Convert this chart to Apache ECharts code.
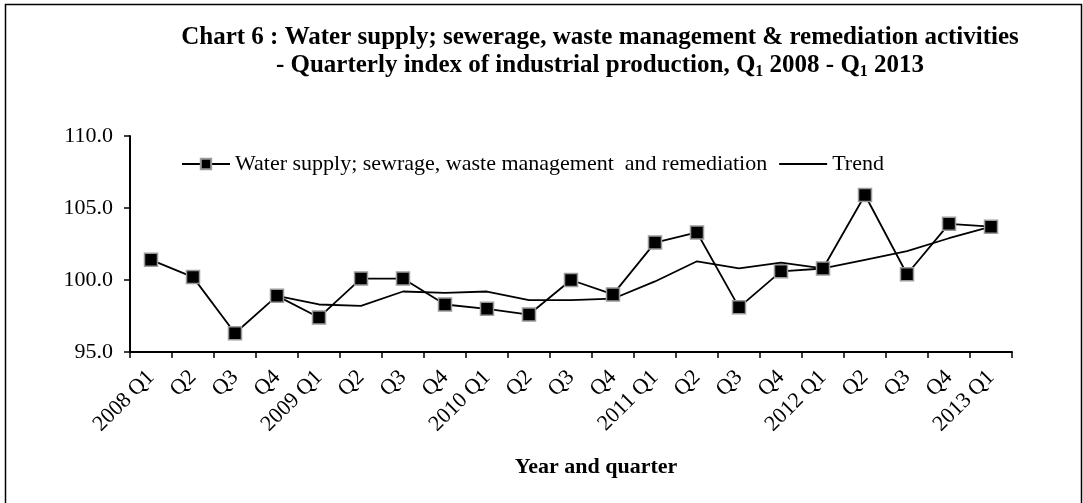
<!DOCTYPE html>
<html>
<head>
<meta charset="utf-8">
<script src="https://cdn.jsdelivr.net/npm/echarts@6/dist/echarts.min.js"></script>
<style>
	html, body { margin: 0; padding: 0; background: #fff; }
	#chart { width: 1083px; height: 503px; }
</style>
</head>
<body>
<div id="chart"></div>
<script>
var quarters = ['2008 Q1', 'Q2', 'Q3', 'Q4', '2009 Q1', 'Q2', 'Q3', 'Q4',
	'2010 Q1', 'Q2', 'Q3', 'Q4', '2011 Q1', 'Q2', 'Q3', 'Q4',
	'2012 Q1', 'Q2', 'Q3', 'Q4', '2013 Q1'];

var waterIndex = [101.4, 100.2, 96.3, 98.9, 97.4, 100.1, 100.1, 98.3,
	98.0, 97.6, 100.0, 99.0, 102.6, 103.3, 98.1, 100.6,
	100.8, 105.9, 100.4, 103.9, 103.7];

var trendIndex = [null, null, null, 98.9, 98.3, 98.2, 99.2, 99.1,
	99.2, 98.6, 98.6, 98.7, 99.9, 101.3, 100.8, 101.2,
	100.8, 101.4, 102.0, 102.9, 103.7];

var yTicks = [95, 100, 105, 110];

var fontSerif = '"Liberation Serif", "DejaVu Serif", serif';
var waterName = 'Water supply; sewrage, waste management  and remediation';

var myChart = echarts.init(document.getElementById('chart'));

var option = {
	backgroundColor: '#fff',
	animation: false,
	textStyle: { fontFamily: fontSerif, color: '#000' },
	title: {
		left: 595,
		top: 19,
		textAlign: 'center',
		text: '{t|Chart 6 : Water supply; sewerage, waste management & remediation activities}\n' +
			'{t|- Quarterly index of industrial production, Q}{s|1}{t| 2008 - Q}{s|1}{t| 2013}',
		textStyle: {
			rich: {
				t: { fontFamily: fontSerif, fontWeight: 'bold', fontSize: 25, color: '#000', lineHeight: 28 },
				s: { fontFamily: fontSerif, fontWeight: 'bold', fontSize: 16, color: '#000', lineHeight: 28, padding: [12, 0, 0, 0] }
			}
		}
	},
	legend: {
		left: 176,
		top: 148,
		itemWidth: 48,
		itemHeight: 13,
		itemGap: 12,
		textStyle: { fontFamily: fontSerif, fontSize: 22, color: '#000' },
		data: [
			{ name: waterName },
			{ name: 'Trend', icon: 'path://M0,0 L48,0 L48,2 L0,2 Z', itemStyle: { color: '#000' } }
		]
	},
	grid: {
		left: 130,
		right: 71,
		top: 136,
		bottom: 151
	},
	xAxis: {
		type: 'category',
		data: quarters,
		boundaryGap: true,
		name: 'Year and quarter',
		nameLocation: 'middle',
		nameGap: 104,
		nameTextStyle: { fontFamily: fontSerif, fontWeight: 'bold', fontSize: 22, color: '#000', padding: [0, 0, 0, 50] },
		axisLine: { lineStyle: { color: '#000', width: 2 } },
		axisTick: { show: true, inside: false, length: 6, alignWithLabel: false, lineStyle: { color: '#000', width: 1.5 } },
		axisLabel: { interval: 0, rotate: 45, fontFamily: fontSerif, fontSize: 22, color: '#000', margin: 22 },
		splitLine: { show: false }
	},
	yAxis: {
		type: 'value',
		min: yTicks[0],
		max: yTicks[yTicks.length - 1],
		interval: 5,
		axisLine: { show: true, lineStyle: { color: '#000', width: 2 } },
		axisTick: { show: true, length: 6, lineStyle: { color: '#000', width: 1.5 } },
		axisLabel: {
			fontFamily: fontSerif, fontSize: 22, color: '#000', margin: 17,
			formatter: function (v) { return v.toFixed(1); }
		},
		splitLine: { show: false }
	},
	series: [
		{
			name: waterName,
			type: 'line',
			data: waterIndex,
			symbol: 'rect',
			symbolSize: 13,
			lineStyle: { color: '#000', width: 1.8 },
			itemStyle: { color: '#000', borderColor: '#9a9a9a', borderWidth: 1.5 },
			z: 3
		},
		{
			name: 'Trend',
			type: 'line',
			data: trendIndex,
			showSymbol: false,
			symbol: 'none',
			lineStyle: { color: '#000', width: 1.8 },
			itemStyle: { color: '#000' },
			z: 2
		}
	],
	graphic: [
		{
			type: 'rect',
			left: 3,
			top: 2,
			shape: { width: 1076, height: 510 },
			style: { fill: 'none', stroke: '#000', lineWidth: 1.5 },
			silent: true
		}
	]
};

myChart.setOption(option);
</script>
</body>
</html>
